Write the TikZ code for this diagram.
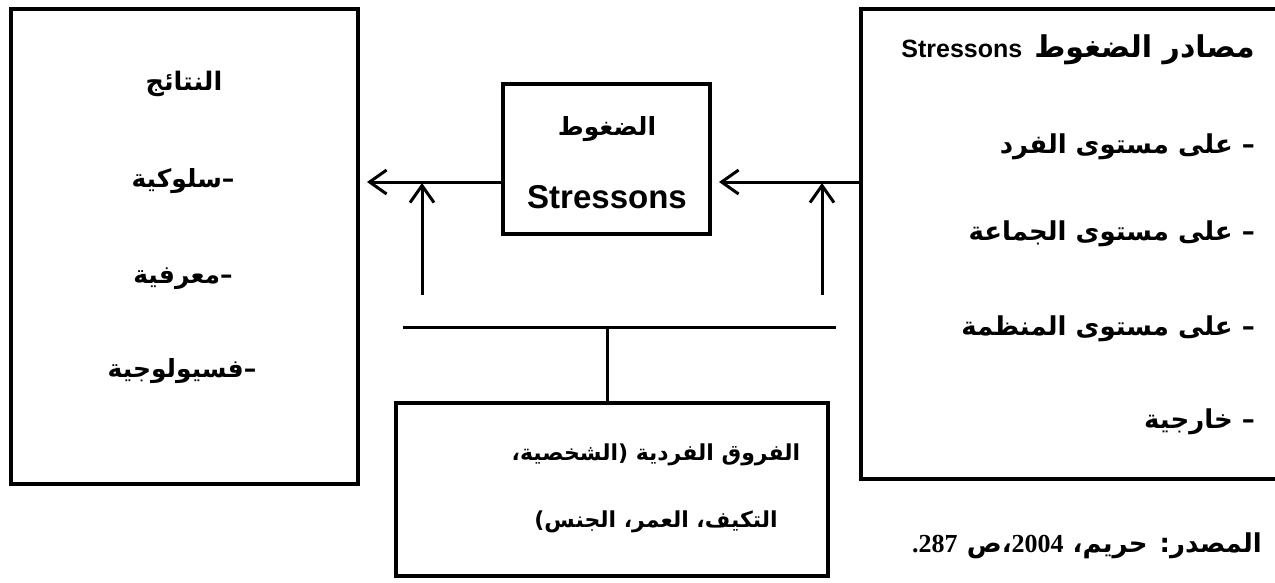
\documentclass[tikz,border=0pt]{standalone}
\usepackage{fontspec}
\setmainfont{Liberation Sans}
\newfontfamily\arabicfont[Script=Arabic]{DejaVu Sans}
\newfontfamily\numfont{Liberation Serif}
\TeXXeTstate=1
\usetikzlibrary{arrows.meta}
\begin{document}
\begin{tikzpicture}[x=1pt,y=-1pt,
  box/.style={draw,line width=4pt,outer sep=0pt,inner sep=0pt},
  arr/.style={line width=3pt,-{Straight Barb[length=17pt,width=24pt]}},
  plain/.style={line width=3pt},
  artxt/.style={inner sep=0pt,font=\fontsize{#1}{#1}\selectfont\bfseries\arabicfont},
  lattxt/.style={inner sep=0pt,font=\fontsize{#1}{#1}\selectfont\bfseries}]
\useasboundingbox (0,0) rectangle (1275,582);
% boxes
\node[box,minimum width=347pt,minimum height=475pt] (res) at (184.5,246.5) {};
\node[box,minimum width=424pt,minimum height=470pt] (src) at (1073,244) {};
\node[box,minimum width=207pt,minimum height=150pt] (mid) at (606.5,159) {};
\node[box,minimum width=432pt,minimum height=173pt] (dif) at (612,489.5) {};
% helper coordinates
\coordinate (row) at (640,182);
\coordinate (v1s) at (422,295);
\coordinate (v1e) at (422,183);
\coordinate (v2s) at (822,295);
\coordinate (v2e) at (822,183);
\coordinate (barL) at (403,327);
\coordinate (barR) at (836,327);
\coordinate (barM) at (607,327);
% connectors
\draw[arr,shorten >=9pt] (mid.west |- row) -- (res.east |- row);
\draw[arr,shorten >=9pt] (src.west |- row) -- (mid.east |- row);
\draw[arr] (v1s) -- (v1e);
\draw[arr] (v2s) -- (v2e);
\draw[plain] (barL) -- (barR);
\draw[plain] (barM) -- (barM |- dif.north);
% right box texts
\node[artxt=30,anchor=base east] (s0) at (1255,57) {\beginR مصادر الضغوط\hspace{12pt}\beginL{\normalfont\bfseries\fontsize{25}{25}\selectfont Stressons}\endL\endR};
\node[artxt=26,anchor=base east] (s1) at (1255,153) {\beginR – على مستوى الفرد\endR};
\node[artxt=26,anchor=base east] (s2) at (1255,240) {\beginR – على مستوى الجماعة\endR};
\node[artxt=26,anchor=base east] (s3) at (1255,335) {\beginR – على مستوى المنظمة\endR};
\node[artxt=26,anchor=base east] (s4) at (1255,428) {\beginR – خارجية\endR};
% left box texts
\node[artxt=25.5,anchor=base] (r0) at (184,90) {\beginR النتائج\endR};
\node[artxt=25,anchor=base] (r1) at (183,187) {\beginR –سلوكية\endR};
\node[artxt=25,anchor=base] (r2) at (183,283) {\beginR –معرفية\endR};
\node[artxt=25,anchor=base] (r3) at (182,377) {\beginR –فسيولوجية\endR};
% middle box texts
\node[artxt=25,anchor=base] (m0) at (607,135) {\beginR الضغوط\endR};
\node[lattxt=33,anchor=base] (m1) at (607,208) {Stressons};
% bottom box texts
\node[artxt=22,anchor=base] (d0) at (656,460) {\beginR الفروق الفردية (الشخصية،\endR};
\node[artxt=22,anchor=base] (d1) at (656,527) {\beginR التكيف، العمر، الجنس)\endR};
% source
\node[artxt=26,anchor=base east] (cite) at (1262,552) {\beginR المصدر: حريم، \beginL{\numfont\bfseries 2004}\endL،ص \beginL{\numfont\bfseries 287}\endL{\numfont\bfseries .}\endR};
\end{tikzpicture}
\end{document}
